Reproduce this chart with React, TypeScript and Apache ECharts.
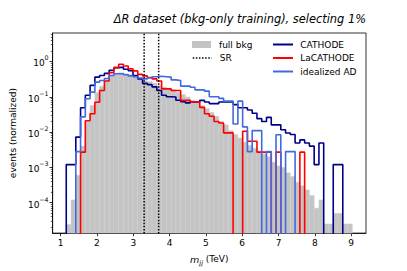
import React, { useEffect, useRef } from 'react';
import * as echarts from 'echarts';

// ---- axes ----
const X_MIN = 0.78;
const X_MAX = 9.41;
const Y_MIN = 1.377e-5;
const Y_MAX = 6.39;
const X_TICKS = [1, 2, 3, 4, 5, 6, 7, 8, 9];
const Y_TICKS = [1e-4, 1e-3, 1e-2, 1e-1, 1];
const SR_EDGES = [3.3, 3.7];

// ---- binning (m_jj in TeV) ----
const BIN_START = 1.155;
const BIN_WIDTH = 0.1313;
const N_BINS = 60;

// ---- histogram values (normalized events per bin) ----
const fullBkg = [
  2.4e-5, 1.2e-4, 6e-4, 4e-3, 0.02, 0.057, 0.13, 0.2, 0.3, 0.39,
  0.46, 0.48, 0.45, 0.42, 0.38, 0.34, 0.29, 0.27, 0.24, 0.21,
  0.19, 0.175, 0.16, 0.135, 0.115, 0.098, 0.08, 0.068, 0.056, 0.046,
  0.036, 0.028, 0.02, 0.016, 0.011, 0.0085, 0.0068, 0.0052, 0.0042, 0.0035,
  0.0029, 0.0024, 0.002, 0.0014, 0.0011, 0.001, 7e-4, 5.5e-4, 3.8e-4, 3e-4,
  2.3e-4, 1.6e-4, 7e-5, 1.2e-4, 2.5e-5, 2.5e-5, 5e-5, 5e-5, 2.5e-5, 2.5e-5,
];
const cathode = [
  0.0012, 0.0012, 0.0072, 0.049, 0.11, 0.21, 0.36, 0.4, 0.46, 0.56,
  0.67, 0.69, 0.6, 0.55, 0.4, 0.32, 0.24, 0.22, 0.19, 0.15,
  0.11, 0.1, 0.098, 0.08, 0.072, 0.067, 0.071, 0.071, 0.079, 0.071,
  0.064, 0.064, 0.071, 0.071, 0.071, 0.06, 0.049, 0.049, 0.042, 0.034,
  0.024, 0.02, 0.026, 0.016, 0.016, 0.0116, 0.0094, 0.0085, 0.0049, 0.006,
  0.0049, 0.004, 0.0012, 0.0049, 0, 0, 0.0012, 0.0012, 0, 0,
];
const laCathode = [
  0, 0, 0, 0.0027, 0.021, 0.033, 0.07, 0.15, 0.28, 0.48,
  0.67, 0.83, 0.74, 0.62, 0.54, 0.43, 0.39, 0.35, 0.32, 0.28,
  0.167, 0.167, 0.15, 0.15, 0.079, 0.079, 0.071, 0.071, 0.05, 0.033,
  0.028, 0.02, 0.018, 0.0095, 0.0095, 0, 0, 0.0105, 0.0055, 0.0055,
  0.0027, 0.0027, 0.0027, 0, 0.0027, 0, 0, 0, 0, 0.0027,
  0, 0, 0, 0, 0, 0, 0, 0, 0, 0,
];
const idealAD = [
  0, 0, 0.0028, 0.027, 0.088, 0.135, 0.26, 0.29, 0.33, 0.4,
  0.45, 0.45, 0.42, 0.39, 0.37, 0.34, 0.32, 0.34, 0.37, 0.38,
  0.37, 0.36, 0.3, 0.29, 0.2, 0.2, 0.186, 0.157, 0.157, 0.144,
  0.1, 0.1, 0.09, 0.075, 0.075, 0.017, 0.075, 0.014, 0.0028, 0.011,
  0.011, 0, 0.0028, 0, 0.0084, 0, 0.0028, 0.0028, 0, 0,
  0, 0, 0, 0, 0, 0, 0, 0, 0, 0,
];

const FONT = "'DejaVu Sans', 'Liberation Sans', sans-serif";
const GRAY = '#c4c4c4';
const C_CATHODE = '#00008b';
const C_LACATHODE = '#ff0000';
const C_IDEAL = '#4169e1';
const FLOOR = 1e-9;

const edges = Array.from({ length: N_BINS + 1 }, (_, i) => BIN_START + i * BIN_WIDTH);

function stepData(vals: number[]) {
  const pts: number[][] = [[edges[0], FLOOR]];
  vals.forEach((v, i) => {
    const y = v > 0 ? v : FLOOR;
    pts.push([edges[i], y], [edges[i + 1], y]);
  });
  pts.push([edges[vals.length], FLOOR]);
  return pts;
}

const minorTicks: number[] = [];
for (let k = -5; k <= 0; k++) {
  for (let m = 2; m <= 9; m++) {
    const v = m * Math.pow(10, k);
    if (v > Y_MIN && v < Y_MAX) minorTicks.push(v);
  }
}

function supLabel(v: number) {
  const e = Math.round(Math.log10(v));
  const s = e < 0 ? '\u2212' + String(-e) : String(e);
  return '{b|10}{s|' + s + '}';
}

export default function App() {
  const ref = useRef<HTMLDivElement>(null);
  useEffect(() => {
    if (!ref.current) return;
    const chart = echarts.init(ref.current, undefined, { renderer: 'svg' });
    const bkgData = fullBkg
      .map((v, i) => [edges[i], edges[i + 1], v])
      .filter((d) => d[2] > 0);

    const stepSeries = (name: string, vals: number[], color: string) => ({
      name,
      type: 'line',
      data: stepData(vals),
      symbol: 'none',
      showSymbol: false,
      clip: true,
      z: 3,
      silent: true,
      lineStyle: { color, width: 1.6 },
      itemStyle: { color },
    });

    const legendText = (padLeft: number) => ({
      fontFamily: FONT,
      fontSize: 9,
      color: '#000',
      lineHeight: 11,
      padding: [0, 0, 0, padLeft],
    });

    const option: any = {
      animation: false,
      backgroundColor: '#ffffff',
      title: {
        text: '\u0394R dataset (bkg-only training), selecting 1%',
        right: 41,
        top: 13.5,
        padding: 0,
        textStyle: {
          fontFamily: FONT,
          fontSize: 11.4,
          fontStyle: 'italic',
          fontWeight: 'normal',
          color: '#000',
        },
      },
      grid: {
        left: 51,
        top: 33,
        width: 315,
        height: 204,
        show: true,
        borderColor: '#000',
        borderWidth: 0.8,
        backgroundColor: 'transparent',
      },
      legend: [
        {
          orient: 'vertical',
          left: 192,
          top: 39,
          padding: 0,
          itemWidth: 19,
          itemHeight: 7,
          selectedMode: false,
          data: [{ name: 'full bkg', icon: 'rect' }],
          textStyle: legendText(3),
        },
        {
          orient: 'vertical',
          left: 192,
          top: 52.5,
          padding: 0,
          itemWidth: 19,
          itemHeight: 1.2,
          selectedMode: false,
          data: ['SR'],
          lineStyle: { color: '#000', width: 1.5, type: [1.5, 1.6] },
          textStyle: legendText(3),
        },
        {
          orient: 'vertical',
          left: 272,
          top: 39,
          padding: 0,
          itemWidth: 20,
          itemHeight: 1.2,
          itemGap: 2.5,
          selectedMode: false,
          data: ['CATHODE', 'LaCATHODE', 'idealized AD'],
          textStyle: legendText(2.3),
        },
      ],
      xAxis: {
        type: 'value',
        min: X_MIN,
        max: X_MAX,
        splitLine: { show: false },
        axisLine: { show: true, lineStyle: { color: '#000', width: 0.8 } },
        axisTick: { customValues: X_TICKS, length: 3.1, lineStyle: { color: '#000', width: 0.8 } },
        axisLabel: {
          customValues: X_TICKS,
          margin: 5,
          fontFamily: FONT,
          fontSize: 9,
          color: '#000',
          formatter: (v: number) => String(v),
        },
        name: '{i|m}{s|jj} (TeV)',
        nameLocation: 'middle',
        nameGap: 14,
        nameTextStyle: {
          fontFamily: FONT,
          fontSize: 9,
          color: '#000',
          lineHeight: 14,
          rich: {
            i: { fontFamily: FONT, fontSize: 9.5, fontStyle: 'italic', color: '#000' },
            s: { fontFamily: FONT, fontSize: 6.5, fontStyle: 'italic', color: '#000', verticalAlign: 'bottom' },
          },
        },
      },
      yAxis: [
        {
          type: 'log',
          logBase: 10,
          min: Y_MIN,
          max: Y_MAX,
          splitLine: { show: false },
          axisLine: { show: true, lineStyle: { color: '#000', width: 0.8 } },
          axisTick: { customValues: Y_TICKS, length: 3.1, lineStyle: { color: '#000', width: 0.8 } },
          axisLabel: {
            customValues: Y_TICKS,
            margin: 4,
            formatter: supLabel,
            rich: {
              b: { fontFamily: FONT, fontSize: 9, color: '#000', verticalAlign: 'bottom', lineHeight: 13 },
              s: { fontFamily: FONT, fontSize: 6.3, color: '#000', verticalAlign: 'top', lineHeight: 13 },
            },
          },
          name: 'events (normalized)',
          nameLocation: 'middle',
          nameGap: 31,
          nameTextStyle: { fontFamily: FONT, fontSize: 9, color: '#000' },
        },
        {
          type: 'log',
          logBase: 10,
          min: Y_MIN,
          max: Y_MAX,
          position: 'left',
          splitLine: { show: false },
          axisLine: { show: false },
          axisLabel: { show: false },
          axisTick: { show: true, customValues: minorTicks, length: 1.8, lineStyle: { color: '#000', width: 0.6 } },
        },
      ],
      series: [
        {
          name: 'full bkg',
          type: 'custom',
          z: 1,
          silent: true,
          itemStyle: { color: GRAY },
          encode: { x: [0, 1], y: 2 },
          data: bkgData,
          renderItem: (_params: any, api: any) => {
            const p0 = api.coord([api.value(0), api.value(2)]);
            const p1 = api.coord([api.value(1), Y_MIN]);
            return {
              type: 'rect',
              shape: { x: p0[0], y: p0[1], width: p1[0] - p0[0], height: p1[1] - p0[1] },
              style: { fill: GRAY, stroke: '#cfcfcf', lineWidth: 0.5 },
            };
          },
        },
        ...SR_EDGES.map((x) => ({
          name: 'SR',
          type: 'line',
          data: [[x, FLOOR], [x, 1e3]],
          symbol: 'none',
          showSymbol: false,
          clip: true,
          z: 5,
          silent: true,
          lineStyle: { color: '#000', width: 1.5, type: [1.5, 1.6] },
          itemStyle: { color: '#000' },
        })),
        stepSeries('CATHODE', cathode, C_CATHODE),
        stepSeries('LaCATHODE', laCathode, C_LACATHODE),
        stepSeries('idealized AD', idealAD, C_IDEAL),
      ],
    };
    chart.setOption(option);
    return () => chart.dispose();
  }, []);

  return (
    <div
      ref={ref}
      style={{ position: 'fixed', left: 0, top: 0, width: 407, height: 271, background: '#fff' }}
    />
  );
}
